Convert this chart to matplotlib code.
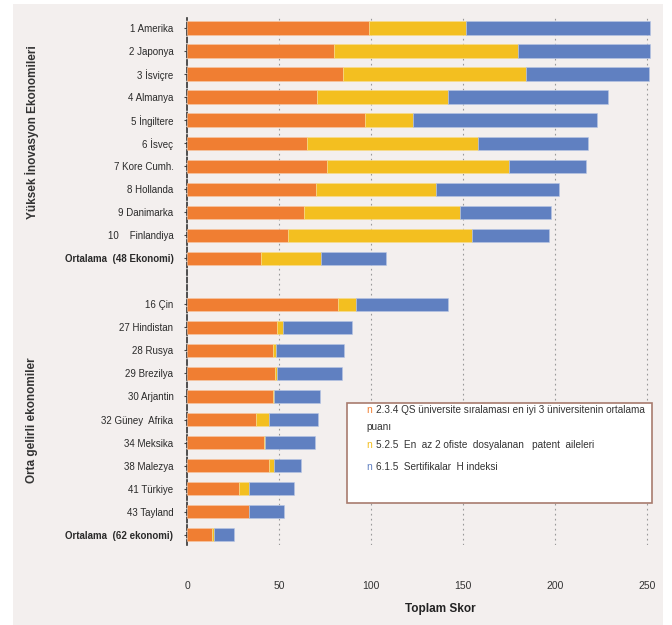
# -*- coding: utf-8 -*-
"""
Inovasyon skorlari: QS, patent aileleri ve H indeksi bilesenleri
"""

import numpy as np
from matplotlib import pyplot as plt
from matplotlib.patches import Rectangle

plt.rcParams['font.family'] = ['Liberation Sans', 'DejaVu Sans']

# ulke etiketleri (ust grup, bos satir, alt grup)
yuksek = ["1 Amerika", "2 Japonya", "3 İsviçre", "4 Almanya", "5 İngiltere",
          "6 İsveç", "7 Kore Cumh.", "8 Hollanda", "9 Danimarka",
          "10    Finlandiya", "Ortalama  (48 Ekonomi)"]
orta = ["16 Çin", "27 Hindistan", "28 Rusya", "29 Brezilya", "30 Arjantin",
        "32 Güney  Afrika", "34 Meksika", "38 Malezya", "41 Türkiye",
        "43 Tayland", "Ortalama  (62 ekonomi)"]

# 2.3.4 QS universite siralamasi
qs_yuksek = [99.0, 79.8, 84.5, 70.7, 96.7, 65.1, 75.8, 69.8, 63.7, 54.8, 40.3]
qs_orta = [82.2, 49.0, 46.5, 47.9, 46.5, 37.2, 41.7, 44.6, 28.1, 33.6, 13.6]
# 5.2.5 patent aileleri
pat_yuksek = [52.6, 100.0, 100.0, 71.0, 26.3, 93.2, 99.4, 65.7, 84.8, 100.0, 32.3]
pat_orta = [9.6, 3.2, 1.9, 0.7, 0.5, 7.4, 0.7, 2.4, 5.3, 0.0, 0.9]
# 6.1.5 H indeksi
h_yuksek = [100.1, 72.0, 66.9, 87.4, 99.7, 59.9, 41.7, 66.9, 49.4, 42.1, 35.7]
h_orta = [50.0, 37.2, 36.9, 35.7, 25.2, 26.5, 26.9, 14.9, 24.8, 19.2, 10.7]

x_ticks = [0, 50, 100, 150, 200, 250]

TURUNCU = '#F07E32'
SARI = '#F3BF20'
MAVI = '#6080C1'
ARKA = '#F3EFEE'

etiketler = yuksek + orta
qs = np.array(qs_yuksek + qs_orta)
pat = np.array(pat_yuksek + pat_orta)
hi = np.array(h_yuksek + h_orta)
# iki grup arasinda bir satir bosluk
pos = np.array(list(range(len(yuksek))) +
               list(range(len(yuksek) + 1, len(yuksek) + 1 + len(orta))))

fig = plt.figure(figsize=(6.72, 6.25), dpi=100)
fig.patches.append(Rectangle((13/672., 0), 650/672., 621/625., transform=fig.transFigure,
                             facecolor=ARKA, edgecolor='none', zorder=-10))

ax = fig.add_axes([187.3/672., 1 - 545/625., (656 - 187.3)/672., (545 - 17.7)/625.])
ax.patch.set_alpha(0)

h = 0.58
ax.barh(pos, qs, height=h, color=TURUNCU, edgecolor='#F7C9A8', linewidth=0.4, zorder=3)
ax.barh(pos, pat, left=qs, height=h, color=SARI, edgecolor='#F8DE90', linewidth=0.4, zorder=3)
ax.barh(pos, hi, left=qs + pat, height=h, color=MAVI, edgecolor='#B8C6E4', linewidth=0.4, zorder=3)

ax.set_xlim(0, 255)
ax.set_ylim(22.45, -0.45)
ax.set_xticks(x_ticks)
ax.set_xticklabels([str(t) for t in x_ticks], fontsize=7.5, color='#333333')
ax.tick_params(axis='x', length=0, pad=26)
ax.set_yticks(pos)
ax.set_yticklabels(etiketler, fontsize=7, color='#2a2a2a')
ax.tick_params(axis='y', length=2, width=0.8, color='#444444', pad=8)
for lbl in ax.get_yticklabels():
    if lbl.get_text().startswith('Ortalama'):
        lbl.set_fontweight('bold')

for t in x_ticks[1:]:
    ax.axvline(t, color='#999999', linestyle=(0, (1.5, 3)), linewidth=0.8, zorder=1)

for s in ['top', 'right', 'bottom']:
    ax.spines[s].set_visible(False)
ax.spines['left'].set_color('#333333')
ax.spines['left'].set_linewidth(1.2)
ax.spines['left'].set_linestyle((0, (3, 1.5)))

fig.text(440/672., 1 - 609/625., 'Toplam Skor', ha='center', va='center',
         fontsize=8.5, fontweight='bold', color='#222222')

fig.text(32/672., 1 - 132/625., 'Yüksek İnovasyon Ekonomileri', rotation=90,
         ha='center', va='center', fontsize=8.5, fontweight='bold', color='#333333')
fig.text(32/672., 1 - 420/625., 'Orta gelirli ekonomiler', rotation=90,
         ha='center', va='center', fontsize=8.5, fontweight='bold', color='#333333')

# aciklama kutusu
fig.patches.append(Rectangle((347/672., 1 - 503/625.), 305/672., 100/625.,
                             transform=fig.transFigure, facecolor='white',
                             edgecolor='#A87B6E', linewidth=1.2, zorder=5))
satirlar = [
    (TURUNCU, 410, '2.3.4 QS üniversite sıralaması en iyi 3 üniversitenin ortalama'),
    (None, 427, 'puanı'),
    (SARI, 445, '5.2.5  En  az 2 ofiste  dosyalanan   patent  aileleri'),
    (MAVI, 467, '6.1.5  Sertifikalar  H indeksi'),
]
for renk, y, metin in satirlar:
    if renk is not None:
        fig.text(366/672., 1 - y/625., 'n', color=renk, fontsize=7.5,
                 ha='left', va='center', zorder=6)
        fig.text(376/672., 1 - y/625., metin, color='#333333', fontsize=7.2,
                 ha='left', va='center', zorder=6)
    else:
        fig.text(366/672., 1 - y/625., metin, color='#333333', fontsize=7.2,
                 ha='left', va='center', zorder=6)

plt.savefig('out.png', dpi=100)
